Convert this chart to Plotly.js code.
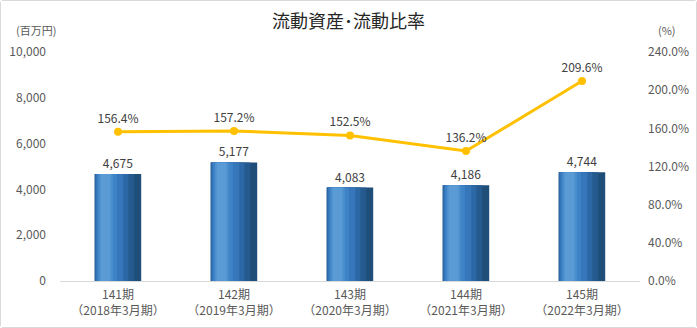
<!DOCTYPE html>
<html><head><meta charset="utf-8">
<script src="https://cdn.plot.ly/plotly-3.0.1.min.js"></script>
<style>
html,body{margin:0;padding:0;background:#fff;}
#wrap{width:695px;height:326px;border:1px solid #d9d9d9;border-radius:3px;}
#chart{width:695px;height:326px;}
</style></head>
<body><div id="wrap"><div id="chart"></div></div>
<script>
const periods = ["141期", "142期", "143期", "144期", "145期"];
const fiscalYears = ["（2018年3月期）", "（2019年3月期）", "（2020年3月期）", "（2021年3月期）", "（2022年3月期）"];
const currentAssets = [4675, 5177, 4083, 4186, 4744];
const currentRatio = [156.4, 157.2, 152.5, 136.2, 209.6];
const leftTicks = [0, 2000, 4000, 6000, 8000, 10000];
const rightTicks = [0, 40, 80, 120, 160, 200, 240];

const cats = periods.map((p, i) => p + "<br>" + fiscalYears[i]);
const FONT = '"Noto Sans CJK JP", "Noto Sans", sans-serif';

// gradient-like bar layers: [offset, width, color]
const layers = [
  [-0.200, 0.400, "#1F4E79"],
  [-0.200, 0.340, "#255A8F"],
  [-0.200, 0.290, "#2C68A6"],
  [-0.188, 0.233, "#3577BA"],
  [-0.180, 0.170, "#3F83C7"],
  [-0.165, 0.120, "#4C8FCE"],
  [-0.150, 0.085, "#5B9BD5"]
];
const traces = layers.map((L, k) => ({
  type: "bar", x: cats, y: currentAssets, yaxis: "y",
  offset: L[0], width: L[1],
  marker: {color: L[2], line: {width: 0}},
  text: k === 0 ? currentAssets.map(v => v.toLocaleString("en-US")) : undefined,
  textposition: k === 0 ? "outside" : "none",
  textfont: {family: FONT, size: 12, color: "#404040"},
  cliponaxis: false, hoverinfo: "skip", showlegend: false
}));
traces.push({
  type: "scatter", mode: "lines+markers+text", x: cats, y: currentRatio, yaxis: "y2",
  line: {color: "#FFC000", width: 3},
  marker: {color: "#FFC000", size: 8},
  text: currentRatio.map(v => v.toFixed(1) + "%"),
  textposition: "top center",
  textfont: {family: FONT, size: 12, color: "#404040"},
  cliponaxis: false, showlegend: false
});

const layout = {
  width: 695, height: 326,
  margin: {l: 59, r: 56, t: 51, b: 46},
  paper_bgcolor: "#fff", plot_bgcolor: "#fff",
  barmode: "overlay",
  font: {family: FONT, color: "#595959", size: 12},
  title: {text: "流動資産･流動比率", font: {family: FONT, size: 18, color: "#262626"}, x: 0.5, xanchor: "center", y: 0.935, yanchor: "middle"},
  xaxis: {
    type: "category", showgrid: false, zeroline: false,
    showline: true, linecolor: "#d9d9d9", linewidth: 1,
    ticks: "", ticklabelstandoff: 3,
    tickfont: {family: FONT, size: 12, color: "#595959"}
  },
  yaxis: {
    range: [0, 10000], tickvals: leftTicks,
    ticktext: leftTicks.map(v => v.toLocaleString("en-US")),
    showgrid: false, zeroline: false, showline: false, ticks: "",
    ticklabelstandoff: 13,
    tickfont: {family: FONT, size: 12, color: "#595959"}
  },
  yaxis2: {
    overlaying: "y", side: "right", range: [0, 240], tickvals: rightTicks,
    ticktext: rightTicks.map(v => v.toFixed(1) + "%"),
    showgrid: false, zeroline: false, showline: false, ticks: "",
    ticklabelstandoff: 7,
    tickfont: {family: FONT, size: 12, color: "#595959"}
  },
  annotations: [
    {text: "(百万円)", xref: "paper", yref: "paper", x: 0, y: 1, xanchor: "left", yanchor: "bottom",
     xshift: -46, yshift: 12, showarrow: false, font: {family: FONT, size: 11, color: "#595959"}},
    {text: "(%)", xref: "paper", yref: "paper", x: 1, y: 1, xanchor: "left", yanchor: "bottom",
     xshift: 16, yshift: 12, showarrow: false, font: {family: FONT, size: 11, color: "#595959"}}
  ]
};
Plotly.newPlot("chart", traces, layout, {displayModeBar: false, staticPlot: true});
</script></body></html>
